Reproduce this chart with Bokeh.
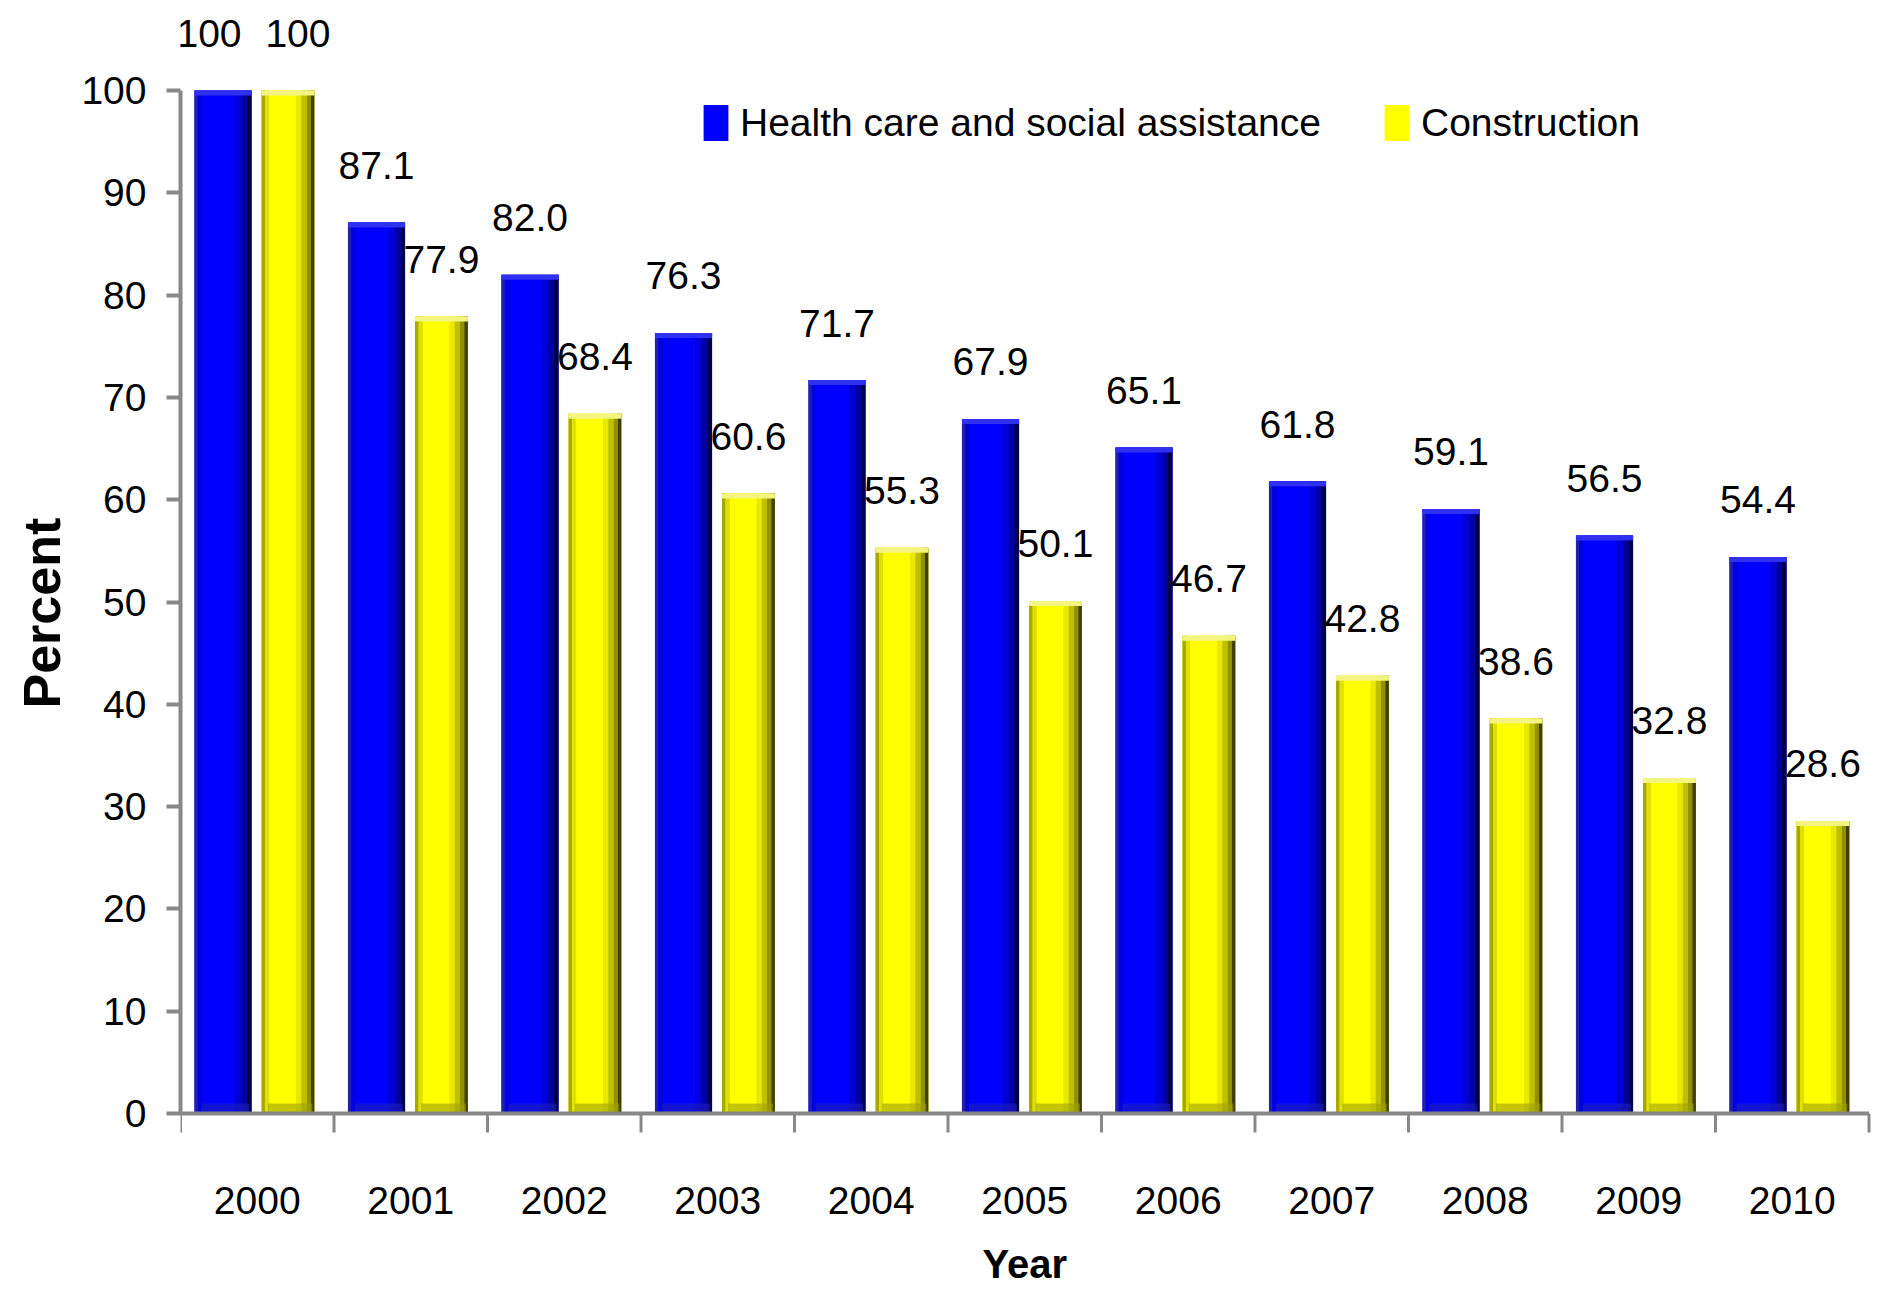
from bokeh.plotting import figure
from bokeh.models import (Range1d, FixedTicker, ColumnDataSource, LabelSet, Legend, LegendItem, Title)
from bokeh.core.properties import value
from bokeh.embed import file_html
from bokeh.resources import INLINE

years = ["2000", "2001", "2002", "2003", "2004", "2005", "2006", "2007", "2008", "2009", "2010"]
health = [100, 87.1, 82.0, 76.3, 71.7, 67.9, 65.1, 61.8, 59.1, 56.5, 54.4]
construction = [100, 77.9, 68.4, 60.6, 55.3, 50.1, 46.7, 42.8, 38.6, 32.8, 28.6]
y_ticks = [0, 10, 20, 30, 40, 50, 60, 70, 80, 90, 100]

FONT = "Liberation Sans"
FS = "39px"
AXIS_GRAY = "#888888"

# layout constants (pixels)
W, H = 1881, 1289
LEFT = 180
PX_Y = 10.23          # pixels per percent unit
ZERO_FROM_TOP = 1113  # pixel row of y=0 inside the figure
PX_X = 153.5          # pixels per category
n = len(years)

y_top = ZERO_FROM_TOP / PX_Y
y_bot = -(H - ZERO_FROM_TOP) / PX_Y

p = figure(width=W, height=H, output_backend="svg", toolbar_location=None,
           x_range=Range1d(0, (W - LEFT) / PX_X), y_range=Range1d(y_bot, y_top),
           min_border_left=LEFT, min_border_right=0, min_border_top=0, min_border_bottom=0)
p.background_fill_color = "white"
p.border_fill_color = "white"
p.outline_line_color = None
p.xgrid.visible = False
p.ygrid.visible = False
p.xaxis.visible = False

centers = [i + 0.5 for i in range(n)]

# bar geometry (fractions of category width)
B_OFF, B_W = -0.223, 0.372
Y_OFF, Y_W = 0.20, 0.345

blue_strips = [(0.00, 0.06, "#2020A8"), (0.06, 0.14, "#0000E0"), (0.14, 0.70, "#0000FF"),
               (0.70, 0.82, "#0000D8"), (0.82, 0.92, "#0000A0"), (0.92, 1.00, "#00004A")]
yellow_strips = [(0.00, 0.07, "#A8A800"), (0.07, 0.15, "#E0E000"), (0.15, 0.65, "#FFFF00"),
                 (0.65, 0.75, "#E8E800"), (0.75, 0.85, "#C0C000"), (0.85, 0.93, "#909000"),
                 (0.93, 1.00, "#404000")]


def draw_bar(vals, off, w, main_color, strips, top_color, bottom_color):
    main = p.vbar(x=[c + off for c in centers], top=vals, width=w, bottom=0,
                  fill_color=main_color, line_color=None)
    left = [c + off - w / 2 for c in centers]
    for a, b, col in strips:
        p.vbar(x=[l + (a + b) / 2 * w for l in left], top=vals, bottom=0, width=(b - a) * w,
               fill_color=col, line_color=None)
    # top bevel band
    p.vbar(x=[c + off for c in centers], top=vals, bottom=[v - 5 / PX_Y for v in vals], width=w,
           fill_color=top_color, line_color=None)
    # bottom bevel band
    p.vbar(x=[c + off + 0.04 * w for c in centers], top=[10 / PX_Y] * n, bottom=0, width=0.84 * w,
           fill_color=bottom_color, fill_alpha=0.6, line_color=None)
    return main


r_h = draw_bar(health, B_OFF, B_W, "#0000FF", blue_strips, "#3030F0", "#2020B8")
r_c = draw_bar(construction, Y_OFF, Y_W, "#FFFF00", yellow_strips, "#F4F480", "#A0A000")

# x axis line and category-boundary ticks
p.segment(x0=[-14 / PX_X], x1=[n], y0=[0], y1=[0], line_color=AXIS_GRAY, line_width=4)
bounds = list(range(n + 1))
p.segment(x0=bounds, x1=bounds, y0=[0] * (n + 1), y1=[-19 / PX_Y] * (n + 1),
          line_color=AXIS_GRAY, line_width=3)

# year labels and x title
p.text(x=centers, y=[-87 / PX_Y] * n, text=years, text_align="center", text_baseline="middle",
       text_font=value(FONT), text_font_size=value(FS), text_color="#000000")
p.text(x=[n / 2], y=[-150 / PX_Y], text=["Year"], text_align="center", text_baseline="middle",
       text_font=value(FONT), text_font_size=value("40px"), text_font_style="bold",
       text_color="#000000")

# data labels
def fmt(v):
    return "100" if v == 100 else f"{v:.1f}"

lab_src = ColumnDataSource(dict(
    x=[c + B_OFF for c in centers] + [c + Y_OFF for c in centers],
    y=health + construction,
    dx=[-14 if v == 100 else 0 for v in health] + [10 if v == 100 else 0 for v in construction],
    t=[fmt(v) for v in health] + [fmt(v) for v in construction]))
labels = LabelSet(x="x", y="y", text="t", source=lab_src, y_offset=57, x_offset="dx",
                  text_align="center", text_baseline="middle",
                  text_font=value(FONT), text_font_size=value(FS), text_color="#000000")
p.add_layout(labels)

# y axis
ya = p.yaxis[0]
ya.bounds = (0, 100)
ya.ticker = FixedTicker(ticks=y_ticks, minor_ticks=[])
ya.major_tick_out = 14
ya.major_tick_in = 0
ya.major_tick_line_color = AXIS_GRAY
ya.major_tick_line_width = 4
ya.axis_line_color = AXIS_GRAY
ya.axis_line_width = 4
ya.major_label_standoff = 20
ya.major_label_text_font = FONT
ya.major_label_text_font_size = FS
ya.major_label_text_color = "#000000"

ytitle = Title(text="Percent", align="left", offset=581, standoff=16,
               text_font=FONT, text_font_size="52px", text_font_style="bold",
               text_color="#000000")
p.add_layout(ytitle, "left")

legend = Legend(items=[LegendItem(label="Health care and social assistance", renderers=[r_h]),
                       LegendItem(label="Construction", renderers=[r_c])],
                orientation="horizontal", location=(520, 1144),
                glyph_width=31, glyph_height=45, label_standoff=9, spacing=60,
                padding=0, margin=0, border_line_color=None, background_fill_alpha=0,
                label_text_font=FONT, label_text_font_size=FS, label_text_color="#000000")
p.add_layout(legend)

open("out.html", "w").write(file_html(p, INLINE))
